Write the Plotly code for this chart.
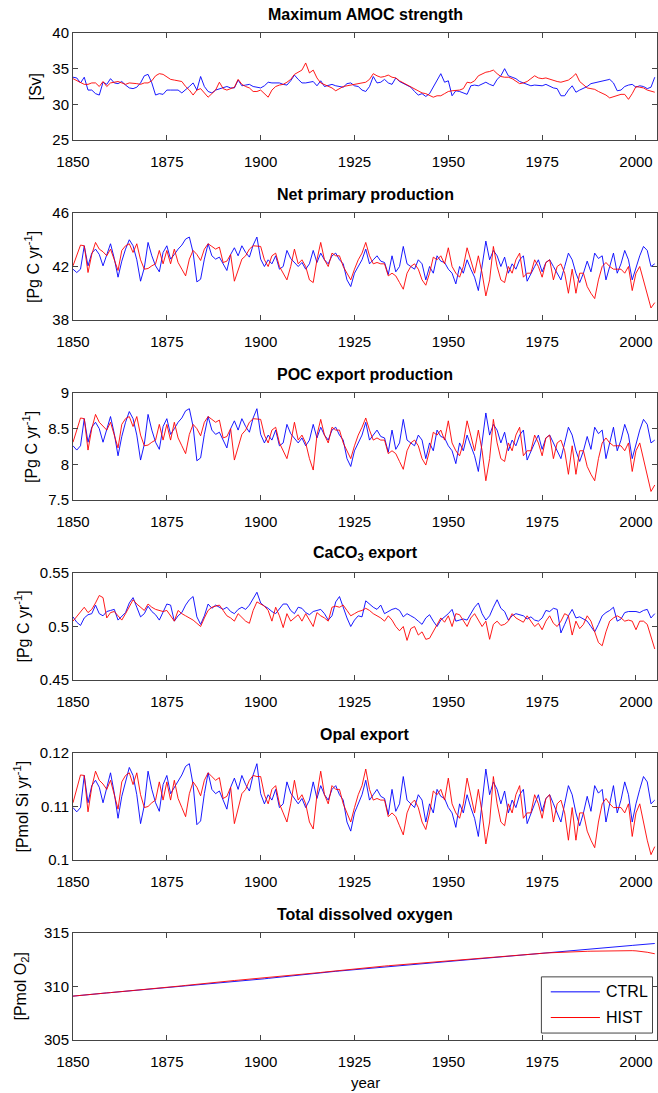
import plotly.graph_objects as go

years = list(range(1850, 2006))

amoc_ctrl = [
33.8, 33.7, 33.0, 33.8, 32.0, 32.0, 31.5, 31.3, 33.1, 32.8,
33.6, 33.0, 32.9, 33.2, 32.7, 32.3, 32.2, 32.4, 33.0, 34.0,
34.2, 33.0, 31.3, 31.5, 31.4, 32.0, 32.0, 32.0, 32.0, 31.6,
32.0, 32.5, 33.0, 32.0, 33.9, 32.5, 31.8, 31.6, 32.0, 32.2,
32.4, 32.5, 32.3, 32.3, 33.4, 32.6, 32.7, 32.8, 32.5, 32.4,
32.3, 32.6, 33.1, 33.0, 33.0, 33.0, 32.8, 32.7, 33.3, 34.1,
33.5, 33.0, 33.0, 33.1, 33.2, 32.6, 33.3, 32.5, 32.7, 32.8,
32.6, 32.5, 32.4, 32.9, 33.0, 32.6, 32.5, 32.0, 31.8, 32.5,
33.9, 33.0, 33.1, 33.5, 33.0, 32.8, 33.7, 33.2, 32.9, 32.7,
32.4, 31.8, 31.3, 31.5, 31.1, 31.5, 32.4, 33.5, 34.3, 33.1,
33.3, 31.2, 31.9, 31.8, 31.6, 31.4, 32.6, 32.7, 32.6, 32.9,
33.1, 32.8, 32.6, 33.5, 34.0, 35.0, 34.0, 33.8, 33.6, 33.2,
33.0, 32.8, 32.6, 32.7, 32.6, 32.6, 32.8, 32.5, 32.3, 32.2,
31.2, 31.2, 32.0, 32.6, 31.7, 32.0, 32.2, 32.5, 32.9, 33.0,
33.1, 33.2, 33.4, 33.5, 33.0, 31.9, 32.0, 32.5, 32.7, 32.8,
32.4, 32.6, 32.5, 32.2, 32.4, 33.8]
amoc_hist = [
33.6, 33.3, 33.0, 32.8, 32.8, 33.0, 33.0, 32.5, 33.2, 32.5,
33.0, 33.1, 33.2, 33.0, 32.8, 33.0, 33.0, 32.9, 32.8, 33.0,
33.0, 33.3, 34.0, 34.3, 34.2, 33.8, 33.5, 33.4, 33.3, 33.2,
32.5, 32.0, 31.3, 32.0, 32.2, 31.6, 31.0, 31.5, 32.0, 33.1,
32.2, 32.0, 32.2, 32.4, 33.5, 32.8, 32.5, 32.3, 31.8, 31.8,
32.0, 31.5, 31.0, 32.0, 32.5, 32.7, 32.8, 33.1, 33.5, 34.2,
34.5, 34.8, 35.8, 34.4, 34.8, 33.7, 33.0, 32.8, 32.5, 32.3,
31.9, 32.2, 32.5, 32.6, 32.7, 32.8, 33.0, 33.1, 33.1, 33.5,
34.3, 34.0, 33.8, 33.9, 34.1, 33.8, 33.7, 33.3, 33.0, 32.8,
32.5, 32.1, 31.8, 31.6, 31.5, 31.3, 31.0, 31.2, 31.2, 31.5,
31.8, 31.9, 31.9, 32.0, 32.2, 33.1, 33.0, 33.3, 34.0, 34.3,
34.5, 34.6, 34.8, 34.3, 33.9, 33.8, 33.8, 33.6, 33.3, 32.9,
33.0, 33.2, 33.6, 34.0, 33.7, 33.6, 33.7, 33.5, 33.4, 33.2,
33.1, 33.3, 33.4, 33.8, 34.3, 33.2, 32.8, 32.3, 32.2, 32.1,
31.8, 31.6, 31.3, 30.9, 31.1, 31.2, 31.4, 31.4, 30.7, 31.5,
32.5, 32.4, 32.3, 32.0, 31.8, 31.7]

npp_ctrl = [
41.8, 41.55, 41.8, 43.55, 42.05, 43.0, 43.3, 42.9, 42.05, 42.9,
43.7, 42.6, 41.2, 42.4, 43.3, 44.0, 43.55, 42.5, 40.9, 41.9,
43.8, 42.8, 42.05, 41.6, 43.05, 43.55, 42.55, 42.9, 43.3, 43.6,
44.05, 44.2, 43.05, 40.85, 41.05, 42.55, 43.7, 42.8, 42.55, 42.7,
42.2, 41.7, 42.9, 43.4, 42.8, 43.55, 43.05, 42.7, 43.6, 44.2,
42.55, 42.0, 42.5, 42.2, 42.8, 41.8, 42.0, 43.2, 42.6, 42.3,
42.0, 42.3, 41.8, 42.2, 43.2, 42.3, 43.0, 42.5, 42.2, 42.8,
43.0, 42.5, 42.2, 41.0, 40.5, 41.5, 42.0, 42.5, 43.3, 42.2,
42.5, 42.8, 42.4, 42.3, 41.4, 42.8, 41.6, 42.0, 43.5, 42.2,
42.0, 41.8, 42.5, 42.2, 41.0, 42.0, 41.5, 42.8, 42.4, 42.3,
41.8, 41.5, 40.7, 42.0, 41.5, 42.5, 41.8, 41.2, 40.2, 42.0,
43.9, 42.5, 43.2, 42.8, 42.0, 42.7, 41.5, 42.2, 41.8, 42.5,
42.8, 40.9, 41.5, 42.0, 42.5, 41.6, 42.3, 42.5, 42.0, 41.5,
41.0, 42.0, 43.0, 42.5, 41.5, 40.8, 41.5, 42.4, 41.6, 43.0,
42.6, 42.8, 41.0, 42.0, 43.0, 41.5, 42.2, 43.2, 42.5, 41.0,
42.0, 42.8, 43.5, 43.2, 42.0, 42.2]
npp_hist = [
42.05, 42.8, 43.6, 43.55, 41.55, 42.9, 43.8, 43.3, 43.1, 42.8,
43.3, 42.5, 41.7, 43.2, 43.55, 43.7, 43.05, 43.7, 42.5, 41.8,
41.85, 42.05, 42.2, 43.2, 42.2, 43.2, 42.2, 43.3, 42.3, 41.8,
41.3, 42.55, 43.2, 42.9, 42.45, 43.3, 43.7, 43.5, 43.3, 43.45,
42.3, 42.4, 42.9, 40.9, 41.8, 42.55, 42.8, 43.3, 43.55, 43.5,
43.5, 42.5, 42.0, 42.8, 43.0, 42.0, 41.5, 41.0, 42.0, 43.3,
42.2, 42.5, 42.0, 41.0, 40.8, 42.5, 43.8, 42.5, 42.0, 43.0,
42.8, 42.8, 42.0, 41.5, 41.0, 41.8, 42.5, 43.0, 43.8, 42.8,
42.2, 42.3, 42.2, 42.2, 41.3, 41.5, 41.3, 40.8, 40.3, 41.5,
42.0, 42.2, 41.8, 41.0, 40.6, 41.5, 42.7, 42.5, 42.8, 42.2,
43.4, 42.0, 41.5, 41.2, 42.0, 43.4, 42.5, 41.5, 42.8, 41.5,
39.8, 41.0, 43.5, 42.0, 41.0, 40.8, 42.0, 41.5, 42.5, 43.0,
41.2, 41.5, 41.5, 42.5, 42.0, 41.2, 42.3, 42.5, 41.0, 42.0,
42.2, 41.5, 40.0, 41.8, 40.0, 41.5, 41.5, 40.5, 40.0, 39.6,
41.0, 42.0, 42.3, 42.0, 41.8, 41.8, 41.8, 41.5, 42.0, 40.2,
41.5, 42.0, 41.0, 40.0, 38.9, 39.3]

poc_ctrl = [
8.26, 8.20, 8.26, 8.64, 8.31, 8.52, 8.59, 8.50, 8.31, 8.50,
8.67, 8.43, 8.12, 8.39, 8.59, 8.74, 8.64, 8.41, 8.06, 8.28,
8.70, 8.48, 8.31, 8.21, 8.53, 8.64, 8.42, 8.50, 8.59, 8.65,
8.75, 8.78, 8.53, 8.05, 8.09, 8.42, 8.67, 8.48, 8.42, 8.45,
8.34, 8.23, 8.50, 8.61, 8.48, 8.64, 8.53, 8.45, 8.65, 8.78,
8.42, 8.30, 8.41, 8.34, 8.48, 8.26, 8.30, 8.56, 8.43, 8.37,
8.30, 8.37, 8.26, 8.34, 8.56, 8.37, 8.52, 8.41, 8.34, 8.48,
8.52, 8.41, 8.34, 8.08, 7.97, 8.19, 8.30, 8.41, 8.59, 8.34,
8.41, 8.48, 8.39, 8.37, 8.17, 8.48, 8.21, 8.30, 8.63, 8.34,
8.30, 8.26, 8.41, 8.34, 8.08, 8.30, 8.19, 8.48, 8.39, 8.37,
8.26, 8.19, 8.01, 8.30, 8.19, 8.41, 8.26, 8.12, 7.90, 8.30,
8.72, 8.41, 8.56, 8.48, 8.30, 8.45, 8.19, 8.34, 8.26, 8.41,
8.48, 8.06, 8.19, 8.30, 8.41, 8.21, 8.37, 8.41, 8.30, 8.19,
8.08, 8.30, 8.52, 8.41, 8.19, 8.04, 8.19, 8.39, 8.21, 8.52,
8.43, 8.48, 8.08, 8.30, 8.52, 8.19, 8.34, 8.56, 8.41, 8.08,
8.30, 8.48, 8.63, 8.56, 8.30, 8.34]
poc_hist = [
8.31, 8.48, 8.65, 8.64, 8.20, 8.50, 8.70, 8.59, 8.54, 8.48,
8.59, 8.41, 8.23, 8.56, 8.64, 8.67, 8.53, 8.67, 8.41, 8.26,
8.27, 8.31, 8.34, 8.56, 8.34, 8.56, 8.34, 8.59, 8.37, 8.26,
8.15, 8.42, 8.56, 8.50, 8.40, 8.59, 8.67, 8.63, 8.59, 8.62,
8.37, 8.39, 8.50, 8.06, 8.26, 8.42, 8.48, 8.59, 8.64, 8.63,
8.63, 8.41, 8.30, 8.48, 8.52, 8.30, 8.19, 8.08, 8.30, 8.59,
8.34, 8.41, 8.30, 8.08, 7.92, 8.41, 8.63, 8.41, 8.30, 8.52,
8.48, 8.48, 8.30, 8.19, 8.08, 8.26, 8.41, 8.52, 8.65, 8.48,
8.34, 8.37, 8.34, 8.34, 8.15, 8.19, 8.15, 8.04, 7.93, 8.19,
8.30, 8.34, 8.26, 8.08, 7.99, 8.19, 8.45, 8.41, 8.48, 8.34,
8.61, 8.30, 8.19, 8.12, 8.30, 8.61, 8.41, 8.19, 8.48, 8.19,
7.77, 8.08, 8.63, 8.30, 8.08, 8.04, 8.30, 8.19, 8.41, 8.52,
8.12, 8.19, 8.19, 8.41, 8.30, 8.12, 8.37, 8.41, 8.08, 8.30,
8.34, 8.19, 7.86, 8.26, 7.86, 8.19, 8.19, 7.97, 7.86, 7.77,
8.08, 8.30, 8.37, 8.30, 8.26, 8.26, 8.26, 8.19, 8.30, 7.90,
8.19, 8.30, 8.08, 7.86, 7.62, 7.71]

caco3_ctrl = [
0.509, 0.504, 0.501, 0.508, 0.511, 0.512, 0.520, 0.512, 0.510, 0.514,
0.515, 0.516, 0.506, 0.510, 0.513, 0.522, 0.527, 0.518, 0.509, 0.512,
0.519, 0.514, 0.511, 0.506, 0.514, 0.521, 0.520, 0.505, 0.510, 0.513,
0.520, 0.525, 0.528, 0.509, 0.502, 0.510, 0.521, 0.517, 0.520, 0.518,
0.516, 0.518, 0.514, 0.512, 0.516, 0.518, 0.516, 0.520, 0.526, 0.532,
0.522, 0.519, 0.517, 0.514, 0.512, 0.517, 0.521, 0.521, 0.515, 0.512,
0.518, 0.517, 0.513, 0.511, 0.514, 0.515, 0.516, 0.512, 0.506, 0.510,
0.523, 0.528, 0.517, 0.508, 0.500, 0.506, 0.510, 0.509, 0.524, 0.521,
0.518, 0.516, 0.520, 0.512, 0.514, 0.516, 0.517, 0.515, 0.509, 0.512,
0.510, 0.508, 0.505, 0.502, 0.508, 0.511, 0.505, 0.500, 0.506, 0.509,
0.512, 0.516, 0.505, 0.506, 0.507, 0.506, 0.512, 0.518, 0.522, 0.512,
0.506, 0.510, 0.518, 0.525, 0.517, 0.514, 0.506, 0.510, 0.512, 0.511,
0.510, 0.507, 0.509, 0.506, 0.505, 0.508, 0.515, 0.514, 0.517, 0.516,
0.494, 0.502, 0.510, 0.516, 0.508, 0.509, 0.507, 0.505, 0.500, 0.495,
0.502, 0.510, 0.513, 0.515, 0.518, 0.505, 0.507, 0.513, 0.514, 0.514,
0.514, 0.513, 0.515, 0.516, 0.508, 0.512]
caco3_hist = [
0.505, 0.509, 0.514, 0.518, 0.513, 0.516, 0.522, 0.529, 0.527, 0.508,
0.513, 0.514, 0.510, 0.506, 0.512, 0.518, 0.525, 0.521, 0.518, 0.515,
0.521, 0.518, 0.516, 0.515, 0.514, 0.515, 0.510, 0.505, 0.515, 0.512,
0.510, 0.508, 0.506, 0.503, 0.500, 0.508, 0.515, 0.518, 0.519, 0.520,
0.515, 0.510, 0.508, 0.505, 0.512, 0.508, 0.505, 0.503, 0.515, 0.523,
0.521, 0.519, 0.515, 0.505, 0.518, 0.510, 0.499, 0.512, 0.505, 0.508,
0.511, 0.505, 0.512, 0.506, 0.500, 0.513, 0.510, 0.508, 0.505, 0.518,
0.519, 0.518, 0.520, 0.515, 0.510, 0.512, 0.514, 0.515, 0.517, 0.515,
0.512, 0.510, 0.508, 0.505, 0.510, 0.506, 0.500, 0.496, 0.500, 0.487,
0.498, 0.500, 0.492, 0.495, 0.488, 0.489, 0.495, 0.502, 0.508, 0.504,
0.510, 0.500, 0.512, 0.511, 0.505, 0.500, 0.508, 0.512, 0.506, 0.500,
0.505, 0.488, 0.502, 0.505, 0.501, 0.502, 0.505, 0.512, 0.508, 0.506,
0.504, 0.510, 0.505, 0.500, 0.503, 0.497, 0.505, 0.510, 0.503, 0.500,
0.505, 0.512, 0.510, 0.492, 0.505, 0.498, 0.502, 0.510, 0.505, 0.495,
0.485, 0.482, 0.495, 0.505, 0.508, 0.510, 0.508, 0.505, 0.506, 0.505,
0.497, 0.505, 0.505, 0.502, 0.490, 0.479]

opal_ctrl = [
0.1098, 0.1090, 0.1098, 0.1158, 0.1107, 0.1139, 0.1149, 0.1136, 0.1107, 0.1136,
0.1163, 0.1125, 0.1078, 0.1119, 0.1149, 0.1173, 0.1158, 0.1122, 0.1068, 0.1102,
0.1166, 0.1132, 0.1107, 0.1091, 0.1141, 0.1158, 0.1124, 0.1136, 0.1149, 0.1159,
0.1175, 0.1180, 0.1141, 0.1066, 0.1073, 0.1124, 0.1163, 0.1132, 0.1124, 0.1129,
0.1112, 0.1095, 0.1136, 0.1153, 0.1132, 0.1158, 0.1141, 0.1129, 0.1159, 0.1180,
0.1124, 0.1105, 0.1122, 0.1112, 0.1132, 0.1098, 0.1105, 0.1146, 0.1125, 0.1115,
0.1105, 0.1115, 0.1098, 0.1112, 0.1146, 0.1115, 0.1139, 0.1122, 0.1112, 0.1132,
0.1139, 0.1122, 0.1112, 0.1071, 0.1054, 0.1088, 0.1105, 0.1122, 0.1149, 0.1112,
0.1122, 0.1132, 0.1119, 0.1115, 0.1085, 0.1132, 0.1091, 0.1105, 0.1156, 0.1112,
0.1105, 0.1098, 0.1122, 0.1112, 0.1071, 0.1105, 0.1088, 0.1132, 0.1119, 0.1115,
0.1098, 0.1088, 0.1061, 0.1105, 0.1088, 0.1122, 0.1098, 0.1078, 0.1044, 0.1105,
0.1170, 0.1122, 0.1146, 0.1132, 0.1105, 0.1129, 0.1088, 0.1112, 0.1098, 0.1122,
0.1132, 0.1068, 0.1088, 0.1105, 0.1122, 0.1091, 0.1115, 0.1122, 0.1105, 0.1088,
0.1071, 0.1105, 0.1139, 0.1122, 0.1088, 0.1064, 0.1088, 0.1119, 0.1091, 0.1139,
0.1125, 0.1132, 0.1071, 0.1105, 0.1139, 0.1088, 0.1112, 0.1146, 0.1122, 0.1071,
0.1105, 0.1132, 0.1156, 0.1146, 0.1105, 0.1112]
opal_hist = [
0.1107, 0.1132, 0.1159, 0.1158, 0.1090, 0.1136, 0.1166, 0.1149, 0.1142, 0.1132,
0.1149, 0.1122, 0.1095, 0.1146, 0.1158, 0.1163, 0.1141, 0.1163, 0.1122, 0.1098,
0.1100, 0.1107, 0.1112, 0.1146, 0.1112, 0.1146, 0.1112, 0.1149, 0.1115, 0.1098,
0.1081, 0.1124, 0.1146, 0.1136, 0.1120, 0.1149, 0.1163, 0.1156, 0.1149, 0.1154,
0.1115, 0.1119, 0.1136, 0.1068, 0.1098, 0.1124, 0.1132, 0.1149, 0.1158, 0.1156,
0.1156, 0.1122, 0.1105, 0.1132, 0.1139, 0.1105, 0.1088, 0.1071, 0.1105, 0.1149,
0.1112, 0.1122, 0.1105, 0.1071, 0.1058, 0.1122, 0.1166, 0.1122, 0.1105, 0.1139,
0.1132, 0.1132, 0.1105, 0.1088, 0.1071, 0.1098, 0.1122, 0.1139, 0.1170, 0.1132,
0.1112, 0.1115, 0.1112, 0.1112, 0.1081, 0.1088, 0.1081, 0.1064, 0.1047, 0.1088,
0.1105, 0.1112, 0.1098, 0.1071, 0.1057, 0.1088, 0.1129, 0.1122, 0.1132, 0.1112,
0.1153, 0.1105, 0.1088, 0.1078, 0.1105, 0.1153, 0.1122, 0.1088, 0.1132, 0.1088,
0.1030, 0.1071, 0.1156, 0.1105, 0.1071, 0.1064, 0.1105, 0.1088, 0.1122, 0.1139,
0.1078, 0.1088, 0.1088, 0.1122, 0.1105, 0.1078, 0.1115, 0.1122, 0.1071, 0.1105,
0.1112, 0.1088, 0.1037, 0.1098, 0.1037, 0.1088, 0.1088, 0.1054, 0.1037, 0.1023,
0.1071, 0.1105, 0.1115, 0.1105, 0.1098, 0.1098, 0.1098, 0.1088, 0.1105, 0.1044,
0.1088, 0.1105, 0.1071, 0.1037, 0.1010, 0.1025]

o2_ctrl = [
309.10, 309.14, 309.18, 309.21, 309.25, 309.28, 309.31, 309.34, 309.37, 309.40,
309.43, 309.46, 309.50, 309.55, 309.60, 309.64, 309.67, 309.70, 309.73, 309.76,
309.79, 309.82, 309.85, 309.88, 309.91, 309.94, 309.97, 310.00, 310.03, 310.06,
310.09, 310.12, 310.15, 310.18, 310.21, 310.24, 310.27, 310.30, 310.33, 310.36,
310.39, 310.42, 310.45, 310.48, 310.51, 310.54, 310.57, 310.60, 310.63, 310.66,
310.69, 310.72, 310.76, 310.80, 310.84, 310.88, 310.92, 310.96, 311.00, 311.03,
311.06, 311.09, 311.12, 311.15, 311.19, 311.23, 311.27, 311.31, 311.35, 311.39,
311.42, 311.45, 311.48, 311.51, 311.55, 311.59, 311.63, 311.67, 311.71, 311.75,
311.78, 311.81, 311.84, 311.87, 311.90, 311.93, 311.96, 311.99, 312.02, 312.05,
312.08, 312.11, 312.14, 312.17, 312.20, 312.23, 312.26, 312.29, 312.32, 312.35,
312.38, 312.41, 312.44, 312.47, 312.50, 312.53, 312.56, 312.59, 312.62, 312.65,
312.68, 312.71, 312.74, 312.77, 312.80, 312.83, 312.86, 312.89, 312.92, 312.95,
312.98, 313.01, 313.04, 313.07, 313.10, 313.13, 313.16, 313.19, 313.22, 313.25,
313.28, 313.31, 313.34, 313.37, 313.40, 313.43, 313.46, 313.49, 313.52, 313.55,
313.58, 313.61, 313.64, 313.67, 313.70, 313.73, 313.76, 313.78, 313.81, 313.84,
313.87, 313.90, 313.93, 313.96, 313.99, 314.02]
o2_hist = [
309.10, 309.14, 309.18, 309.21, 309.25, 309.28, 309.31, 309.34, 309.37, 309.40,
309.43, 309.46, 309.50, 309.55, 309.60, 309.64, 309.67, 309.70, 309.73, 309.76,
309.79, 309.82, 309.85, 309.88, 309.91, 309.94, 309.97, 310.00, 310.03, 310.06,
310.10, 310.14, 310.18, 310.22, 310.26, 310.30, 310.34, 310.38, 310.41, 310.44,
310.47, 310.50, 310.53, 310.56, 310.59, 310.62, 310.65, 310.68, 310.71, 310.74,
310.77, 310.80, 310.84, 310.88, 310.92, 310.96, 311.00, 311.04, 311.07, 311.10,
311.13, 311.16, 311.19, 311.22, 311.25, 311.28, 311.31, 311.35, 311.39, 311.43,
311.46, 311.49, 311.52, 311.55, 311.59, 311.63, 311.67, 311.71, 311.75, 311.79,
311.82, 311.85, 311.88, 311.91, 311.94, 311.97, 312.00, 312.03, 312.06, 312.09,
312.11, 312.13, 312.15, 312.17, 312.19, 312.21, 312.24, 312.27, 312.30, 312.33,
312.36, 312.39, 312.42, 312.45, 312.48, 312.51, 312.54, 312.57, 312.60, 312.63,
312.66, 312.69, 312.72, 312.75, 312.78, 312.81, 312.84, 312.87, 312.90, 312.93,
312.96, 312.99, 313.02, 313.05, 313.08, 313.11, 313.13, 313.15, 313.17, 313.19,
313.20, 313.21, 313.23, 313.25, 313.26, 313.27, 313.28, 313.29, 313.30, 313.31,
313.32, 313.33, 313.34, 313.35, 313.36, 313.37, 313.37, 313.37, 313.36, 313.35,
313.33, 313.30, 313.26, 313.20, 313.13, 313.06]

titles = ["Maximum AMOC strength", "Net primary production", "POC export production",
          "CaCO<sub>3</sub> export", "Opal export", "Total dissolved oxygen"]
ylabels = ["[Sv]", "[Pg C yr<sup>-1</sup>]", "[Pg C yr<sup>-1</sup>]",
           "[Pg C yr<sup>-1</sup>]", "[Pmol Si yr<sup>-1</sup>]", "[Pmol O<sub>2</sub>]"]
yranges = [[25, 40], [38, 46], [7.5, 9], [0.45, 0.55], [0.1, 0.12], [305, 315]]
ytickvals = [[25, 30, 35, 40], [38, 42, 46], [7.5, 8, 8.5, 9],
             [0.45, 0.5, 0.55], [0.1, 0.11, 0.12], [305, 310, 315]]
yticktext = [["25", "30", "35", "40"], ["38", "42", "46"], ["7.5", "8", "8.5", "9"],
             ["0.45", "0.5", "0.55"], ["0.1", "0.11", "0.12"], ["305", "310", "315"]]
xtickvals = [1850, 1875, 1900, 1925, 1950, 1975, 2000]
series = [(amoc_ctrl, amoc_hist), (npp_ctrl, npp_hist), (poc_ctrl, poc_hist),
          (caco3_ctrl, caco3_hist), (opal_ctrl, opal_hist), (o2_ctrl, o2_hist)]
labels = ["CTRL", "HIST"]
colors = ["#0000ff", "#ff0000"]

W, H = 658, 1093
L, R, T, B = 73, 1, 33, 53
PH = H - T - B
FONT = "Liberation Sans, Arial, sans-serif"
AX = "#444444"

fig = go.Figure()
annotations = []
ylab_px = [35, 31.5, 29.5, 23, 21, 21]

for i in range(6):
    n = "" if i == 0 else str(i + 1)
    top_px = T + 180 * i
    bot_px = top_px + 107
    d0 = (H - B - bot_px) / PH
    d1 = (H - B - top_px) / PH
    for j in range(2):
        fig.add_trace(go.Scatter(x=years, y=series[i][j], mode="lines",
                                 line=dict(color=colors[j], width=0.9),
                                 name=labels[j], showlegend=False, hoverinfo="skip",
                                 xaxis="x" + n, yaxis="y" + n))
    common = dict(showline=True, linecolor=AX, linewidth=1, mirror="ticks",
                  ticks="inside", ticklen=5, tickcolor=AX, showgrid=False,
                  zeroline=False, tickfont=dict(family=FONT, size=15, color="black"))
    fig.layout["xaxis" + n] = dict(domain=[0, 1], range=[1850, 2005.6],
                                   tickvals=xtickvals, anchor="y" + n,
                                   ticklabelstandoff=8, **common)
    fig.layout["yaxis" + n] = dict(domain=[d0, d1], range=yranges[i],
                                   tickvals=ytickvals[i], ticktext=yticktext[i],
                                   anchor="x" + n, **common)
    annotations.append(dict(text="<b>" + titles[i] + "</b>", xref="paper", yref="paper",
                            x=0.5, y=d1, yanchor="bottom", xanchor="center", yshift=8,
                            showarrow=False, font=dict(family=FONT, size=16, color="black")))
    annotations.append(dict(text=ylabels[i], xref="paper", yref="paper",
                            x=(ylab_px[i] - L) / (W - L - R), y=(d0 + d1) / 2,
                            xanchor="center", yanchor="middle", textangle=-90,
                            showarrow=False, font=dict(family=FONT, size=16, color="black")))

annotations.append(dict(text="year", xref="paper", yref="paper", x=0.5,
                        y=(H - B - 1082) / PH, xanchor="center", yanchor="middle",
                        showarrow=False, font=dict(family=FONT, size=15, color="black")))

# legend box (drawn in the last panel)
shapes = [dict(type="rect", xref="x6", yref="y6", x0=1974.8, x1=2004.4, y0=305.65, y1=310.9,
               line=dict(color=AX, width=1), fillcolor="white", layer="above")]
leg_y = [309.5, 307.1]
for j in range(2):
    shapes.append(dict(type="line", xref="x6", yref="y6", x0=1977.3, x1=1990.4,
                       y0=leg_y[j], y1=leg_y[j], line=dict(color=colors[j], width=1),
                       layer="above"))
    annotations.append(dict(text=labels[j], xref="x6", yref="y6", x=1991.6, y=leg_y[j],
                            xanchor="left", yanchor="middle", showarrow=False,
                            font=dict(family=FONT, size=16, color="black")))

fig.update_layout(width=W, height=H, margin=dict(l=L, r=R, t=T, b=B),
                  plot_bgcolor="white", paper_bgcolor="white", hovermode=False,
                  annotations=annotations, shapes=shapes, showlegend=False)
fig.write_html("out.html", config={"displayModeBar": False, "staticPlot": True},
               post_script="document.body.style.margin='0px';")
